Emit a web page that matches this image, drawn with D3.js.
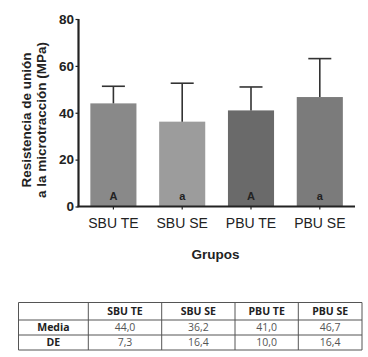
<!DOCTYPE html>
<html><head><meta charset="utf-8">
<script src="https://cdn.jsdelivr.net/npm/d3@7"></script>
<style>body{margin:0;background:#fff}svg{display:block}</style>
</head><body>
<svg id="c" width="368" height="357"></svg>
<script>
const categories = ["SBU TE", "SBU SE", "PBU TE", "PBU SE"];
const means = [44.0, 36.2, 41.0, 46.7];
const sds = [7.3, 16.4, 10.0, 16.4];
const letters = ["A", "a", "A", "a"];
const barColors = ["#898989", "#9c9c9c", "#6a6a6a", "#7b7b7b"];
const yTicks = [0, 20, 40, 60, 80];
const rowLabels = ["Media", "DE"];

const svg = d3.select("#c");
const x = d3.scaleBand().domain(categories).range([79, 354.2]).paddingInner(0.33).paddingOuter(0.165);
const y = d3.scaleLinear().domain([0, 80]).range([206.5, 19]);

// bars
svg.selectAll("rect.bar").data(categories).join("rect")
  .attr("x", d => x(d)).attr("width", x.bandwidth())
  .attr("y", (d, i) => y(means[i])).attr("height", (d, i) => y(0) - y(means[i]))
  .attr("fill", (d, i) => barColors[i]);

// error bars
const eb = svg.append("g").attr("stroke", "#333").attr("stroke-width", 1.6);
categories.forEach((c, i) => {
  const cx = x(c) + x.bandwidth() / 2;
  eb.append("line").attr("x1", cx).attr("x2", cx).attr("y1", y(means[i])).attr("y2", y(means[i] + sds[i]));
  eb.append("line").attr("x1", cx - 11.5).attr("x2", cx + 11.5).attr("y1", y(means[i] + sds[i])).attr("y2", y(means[i] + sds[i]));
});

// letters
svg.selectAll("text.let").data(categories).join("text")
  .attr("x", d => x(d) + x.bandwidth() / 2).attr("y", 199.5)
  .attr("text-anchor", "middle").attr("font-family", "Liberation Sans, Arial, sans-serif")
  .attr("font-weight", "bold").attr("font-size", 11).attr("fill", "#222")
  .text((d, i) => letters[i]);

// y axis
const yAxis = svg.append("g").attr("transform", "translate(78.5,0)")
  .call(d3.axisLeft(y).tickValues(yTicks).tickSize(3).tickPadding(1.5));
yAxis.select(".domain").attr("stroke", "#222").attr("stroke-width", 2.2).attr("d", `M0,${y(80)}V${y(0)}`);
yAxis.selectAll(".tick line").attr("stroke", "#222").attr("stroke-width", 1.2);
yAxis.selectAll(".tick text").attr("font-family", "Liberation Sans, Arial, sans-serif")
  .attr("font-weight", "bold").attr("font-size", 13.5).attr("fill", "#222");

// x axis
const xAxis = svg.append("g").attr("transform", `translate(0,${y(0)})`)
  .call(d3.axisBottom(x).tickSize(3).tickPadding(9));
xAxis.select(".domain").attr("stroke", "#222").attr("stroke-width", 2.2).attr("d", "M77.4,0H355");
xAxis.selectAll(".tick line").attr("stroke", "#222").attr("stroke-width", 1.2);
xAxis.selectAll(".tick text").attr("font-family", "Liberation Sans, Arial, sans-serif")
  .attr("font-size", 14).attr("fill", "#222");

// y label
const yl = svg.append("text").attr("transform", "translate(0,120) rotate(-90)")
  .attr("text-anchor", "middle").attr("font-family", "Liberation Sans, Arial, sans-serif")
  .attr("font-weight", "bold").attr("font-size", 13.5).attr("fill", "#222");
yl.append("tspan").attr("x", 0).attr("y", 31).text("Resistencia de unión");
yl.append("tspan").attr("x", 0).attr("y", 45.5).text("a la microtracción (MPa)");

// x label
svg.append("text").attr("x", 215.5).attr("y", 258.5).attr("text-anchor", "middle")
  .attr("font-family", "Liberation Sans, Arial, sans-serif").attr("font-weight", "bold")
  .attr("font-size", 13.5).attr("fill", "#222").text("Grupos");

// table
const colX = [18.5, 88.3, 161.7, 235, 298.3, 362];
const rowY = [302.5, 320, 335, 350];
const fmt = v => v.toFixed(1).replace(".", ",");
const tbl = svg.append("g");
const header = [""].concat(categories);
const rows = [header, [rowLabels[0]].concat(means.map(fmt)), [rowLabels[1]].concat(sds.map(fmt))];
rows.forEach((r, ri) => {
  r.forEach((t, ci) => {
    const bold = ri === 0 || ci === 0;
    tbl.append("text").attr("x", (colX[ci] + colX[ci + 1]) / 2).attr("y", (rowY[ri] + rowY[ri + 1]) / 2 + 3.8)
      .attr("text-anchor", "middle").attr("font-family", "Open Sans, sans-serif")
      .attr("font-size", 10.5).attr("font-weight", bold ? "bold" : "normal")
      .attr("fill", bold ? "#222" : "#555").text(t);
  });
});
colX.forEach(cx => tbl.append("line").attr("x1", cx).attr("x2", cx).attr("y1", rowY[0]).attr("y2", rowY[3])
  .attr("stroke", "#555").attr("stroke-width", 1));
rowY.forEach(ry => tbl.append("line").attr("x1", colX[0]).attr("x2", colX[5]).attr("y1", ry).attr("y2", ry)
  .attr("stroke", "#555").attr("stroke-width", 1));
</script>
</body></html>
